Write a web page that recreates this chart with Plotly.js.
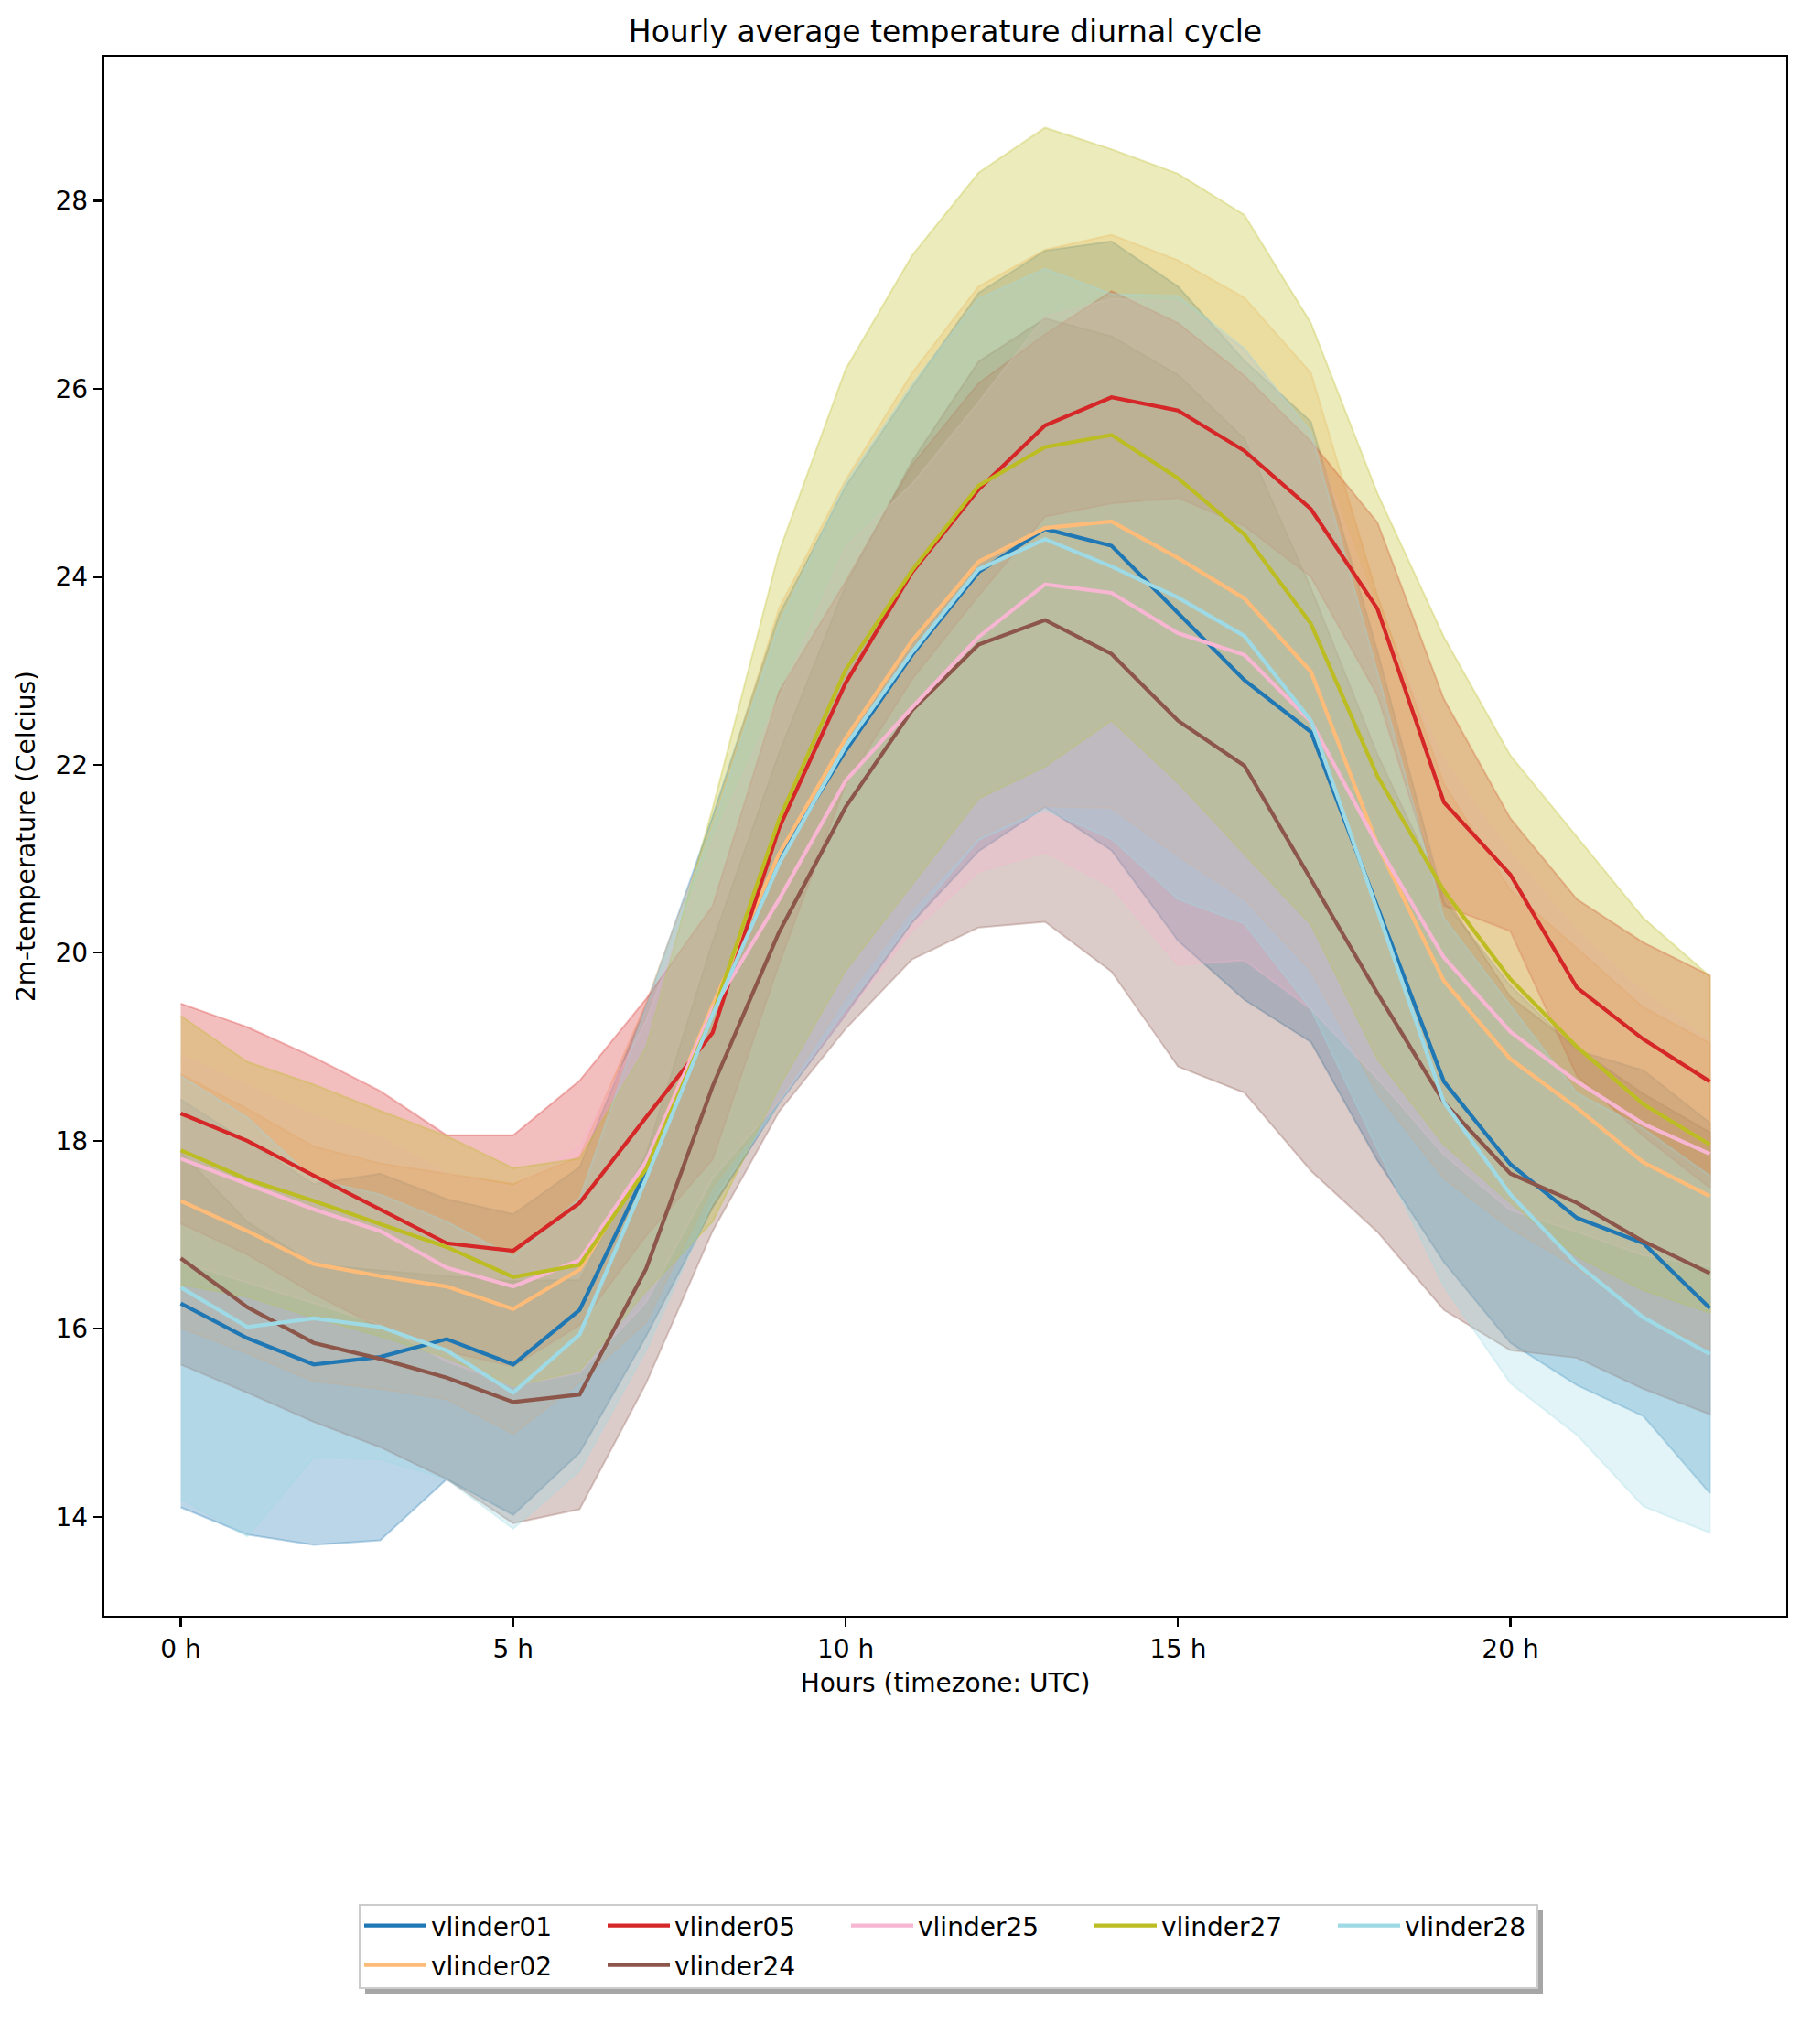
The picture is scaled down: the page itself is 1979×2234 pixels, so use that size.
<!DOCTYPE html>
<html>
<head>
<meta charset="utf-8">
<script src="https://cdn.plot.ly/plotly-3.0.1.min.js"></script>
<style>
  html, body { margin: 0; padding: 0; background: #ffffff; }
  #chart { width: 1979px; height: 2234px; }
</style>
</head>
<body>
<div id="chart"></div>
<script>
// Hour of day (UTC)
const hours = [0, 1, 2, 3, 4, 5, 6, 7, 8, 9, 10, 11, 12, 13, 14, 15, 16, 17, 18, 19, 20, 21, 22, 23];
const tickHours = [0, 5, 10, 15, 20];
const tickLabels = ['0 h', '5 h', '10 h', '15 h', '20 h'];
const tempTicks = [14, 16, 18, 20, 22, 24, 26, 28];

const stations = ['vlinder01', 'vlinder02', 'vlinder05', 'vlinder24', 'vlinder25', 'vlinder27', 'vlinder28'];

// Hourly mean 2m-temperature per station (Celcius)
const mean01 = [16.27, 15.90, 15.62, 15.70, 15.89, 15.62, 16.20, 17.68, 19.37, 21.00, 22.15, 23.17, 24.05, 24.51, 24.33, 23.61, 22.90, 22.35, 20.50, 18.63, 17.75, 17.18, 16.91, 16.22];
const mean02 = [17.36, 17.04, 16.69, 16.56, 16.45, 16.21, 16.63, 17.77, 19.44, 21.05, 22.28, 23.32, 24.16, 24.52, 24.59, 24.20, 23.77, 22.99, 21.15, 19.70, 18.87, 18.35, 17.77, 17.41];
const mean05 = [18.29, 18.00, 17.63, 17.27, 16.91, 16.83, 17.34, 18.25, 19.15, 21.33, 22.87, 24.05, 24.93, 25.61, 25.91, 25.77, 25.34, 24.72, 23.66, 21.60, 20.83, 19.63, 19.08, 18.63];
const mean24 = [16.75, 16.23, 15.85, 15.68, 15.48, 15.22, 15.30, 16.64, 18.58, 20.22, 21.55, 22.58, 23.28, 23.54, 23.18, 22.47, 21.99, 20.78, 19.57, 18.41, 17.65, 17.34, 16.93, 16.59];
const mean25 = [17.81, 17.54, 17.27, 17.04, 16.65, 16.45, 16.73, 17.78, 19.40, 20.57, 21.83, 22.61, 23.36, 23.92, 23.83, 23.40, 23.17, 22.46, 21.15, 19.95, 19.16, 18.63, 18.18, 17.86];
const mean27 = [17.90, 17.59, 17.36, 17.12, 16.87, 16.55, 16.68, 17.70, 19.34, 21.42, 23.01, 24.07, 24.97, 25.38, 25.51, 25.05, 24.45, 23.50, 21.88, 20.66, 19.72, 19.00, 18.39, 17.96];
const mean28 = [16.44, 16.02, 16.11, 16.02, 15.77, 15.32, 15.94, 17.60, 19.34, 20.95, 22.20, 23.20, 24.08, 24.40, 24.11, 23.78, 23.37, 22.47, 20.45, 18.41, 17.43, 16.69, 16.12, 15.73];

// Hourly standard deviation per station (Celcius)
const std01 = [2.17, 2.09, 1.92, 1.95, 1.49, 1.60, 1.52, 1.76, 2.08, 2.60, 2.81, 2.85, 2.97, 2.96, 3.24, 3.48, 3.40, 3.30, 2.71, 1.92, 1.90, 1.78, 1.84, 1.97];
const std02 = [1.35, 1.30, 1.25, 1.20, 1.20, 1.33, 1.20, 1.70, 1.93, 2.62, 2.75, 2.85, 2.93, 2.96, 3.05, 3.17, 3.20, 3.18, 2.65, 2.10, 1.80, 1.70, 1.65, 1.63];
const std05 = [1.17, 1.21, 1.26, 1.26, 1.15, 1.23, 1.30, 1.26, 1.35, 1.45, 1.08, 1.14, 1.13, 0.97, 1.13, 0.93, 0.80, 0.72, 0.92, 1.10, 0.60, 0.94, 1.03, 1.13];
const std24 = [1.13, 0.91, 0.84, 0.94, 1.08, 1.29, 1.22, 1.22, 1.54, 1.91, 2.36, 2.65, 3.01, 3.21, 3.38, 3.68, 3.48, 3.10, 2.54, 2.21, 1.88, 1.65, 1.57, 1.50];
const std25 = [1.10, 1.05, 1.00, 1.00, 1.00, 1.06, 1.20, 1.50, 1.80, 2.15, 2.49, 2.38, 2.50, 2.85, 3.13, 3.53, 3.25, 3.06, 2.49, 2.10, 1.90, 1.60, 1.40, 1.20];
const std27 = [1.43, 1.25, 1.24, 1.20, 1.18, 1.16, 1.13, 1.30, 2.20, 2.85, 3.20, 3.35, 3.33, 3.40, 3.04, 3.24, 3.40, 3.20, 3.01, 2.70, 2.38, 2.23, 1.98, 1.79];
const std28 = [2.25, 2.23, 1.48, 1.41, 1.37, 1.45, 1.45, 1.83, 2.00, 2.55, 2.80, 2.85, 2.88, 2.88, 2.90, 3.21, 3.06, 3.07, 2.54, 1.96, 2.01, 1.82, 2.01, 1.90];

const means = [mean01, mean02, mean05, mean24, mean25, mean27, mean28];
const stds = [std01, std02, std05, std24, std25, std27, std28];

// tab20 colours per station
const palette = ['#1f77b4', '#ffbb78', '#d62728', '#8c564b', '#f7b6d2', '#bcbd22', '#9edae5'];
const firstRow = ['vlinder01', 'vlinder05', 'vlinder25', 'vlinder27', 'vlinder28'];

const FONT = 'DejaVu Sans, Liberation Sans, sans-serif';

function rgba(hex, a) {
  const r = parseInt(hex.slice(1, 3), 16);
  const g = parseInt(hex.slice(3, 5), 16);
  const b = parseInt(hex.slice(5, 7), 16);
  return 'rgba(' + r + ',' + g + ',' + b + ',' + a + ')';
}

// Shaded mean ± std bands
const bandTraces = stations.map((name, i) => {
  const upper = means[i].map((m, j) => m + stds[i][j]);
  const lower = means[i].map((m, j) => m - stds[i][j]);
  return {
    type: 'scatter',
    mode: 'lines',
    x: hours.concat(hours.slice().reverse()),
    y: upper.concat(lower.slice().reverse()),
    fill: 'toself',
    fillcolor: rgba(palette[i], 0.3),
    line: { color: rgba(palette[i], 0.3), width: 2 },
    showlegend: false,
    hoverinfo: 'skip'
  };
});

// Mean lines
const lineTraces = stations.map((name, i) => ({
  type: 'scatter',
  mode: 'lines',
  name: name,
  x: hours,
  y: means[i],
  line: { color: palette[i], width: 4.2 },
  legend: firstRow.includes(name) ? 'legend' : 'legend2'
}));

// Value range with a 5% margin on each side
const allLow = means.flatMap((m, i) => m.map((v, j) => v - stds[i][j]));
const allHigh = means.flatMap((m, i) => m.map((v, j) => v + stds[i][j]));
const yMin = Math.min(...allLow), yMax = Math.max(...allHigh);
const yPad = 0.05 * (yMax - yMin);
const xPad = 0.05 * (hours[hours.length - 1] - hours[0]);

// Plot area in pixels
const L = 114, R = 1952, T = 62, B = 1766;
const W = R - L, H = B - T;
const px = X => (X - L) / W;
const py = Y => (B - Y) / H;

const legendCommon = {
  orientation: 'h',
  xanchor: 'left',
  yanchor: 'middle',
  bgcolor: 'rgba(0,0,0,0)',
  borderwidth: 0,
  entrywidth: 183,
  entrywidthmode: 'pixels',
  itemwidth: 68,
  font: { family: FONT, size: 28, color: '#000000' }
};

const layout = {
  width: 1979,
  height: 2234,
  paper_bgcolor: '#ffffff',
  plot_bgcolor: '#ffffff',
  margin: { l: L, r: 1979 - R, t: T, b: 2234 - B, autoexpand: false },
  font: { family: FONT, size: 28, color: '#000000' },
  title: {
    text: 'Hourly average temperature diurnal cycle',
    font: { family: FONT, size: 33, color: '#000000' },
    x: 0.5, xref: 'paper', xanchor: 'center',
    y: 1 - 34 / 2234, yref: 'container', yanchor: 'middle'
  },
  xaxis: {
    range: [hours[0] - xPad, hours[hours.length - 1] + xPad],
    tickvals: tickHours,
    ticktext: tickLabels,
    ticks: 'outside', ticklen: 10, tickwidth: 2.2, tickcolor: '#000000',
    showline: true, linecolor: '#000000', linewidth: 2.2, mirror: true,
    showgrid: false, zeroline: false,
    tickfont: { family: FONT, size: 28, color: '#000000' },
    title: { text: 'Hours (timezone: UTC)', font: { family: FONT, size: 28, color: '#000000' }, standoff: 12 }
  },
  yaxis: {
    range: [yMin - yPad, yMax + yPad],
    tickvals: tempTicks,
    ticks: 'outside', ticklen: 10, tickwidth: 2.2, tickcolor: '#000000',
    showline: true, linecolor: '#000000', linewidth: 2.2, mirror: true,
    showgrid: false, zeroline: false,
    tickfont: { family: FONT, size: 28, color: '#000000' },
    title: { text: '2m-temperature (Celcius)', font: { family: FONT, size: 28, color: '#000000' }, standoff: 14 }
  },
  legend: Object.assign({}, legendCommon, { x: px(393), y: py(2105) }),
  legend2: Object.assign({}, legendCommon, { x: px(393), y: py(2148) }),
  shapes: [
    // legend shadow
    { type: 'rect', xref: 'paper', yref: 'paper', layer: 'below',
      x0: px(399), x1: px(1686), y0: py(2179), y1: py(2088),
      fillcolor: '#a6a6a6', line: { width: 0 } },
    // legend frame
    { type: 'rect', xref: 'paper', yref: 'paper', layer: 'below',
      x0: px(393), x1: px(1680), y0: py(2173), y1: py(2082),
      fillcolor: '#ffffff', line: { color: '#cccccc', width: 2 } }
  ],
  showlegend: true
};

Plotly.newPlot('chart', bandTraces.concat(lineTraces), layout, { staticPlot: true, displayModeBar: false });
</script>
</body>
</html>
